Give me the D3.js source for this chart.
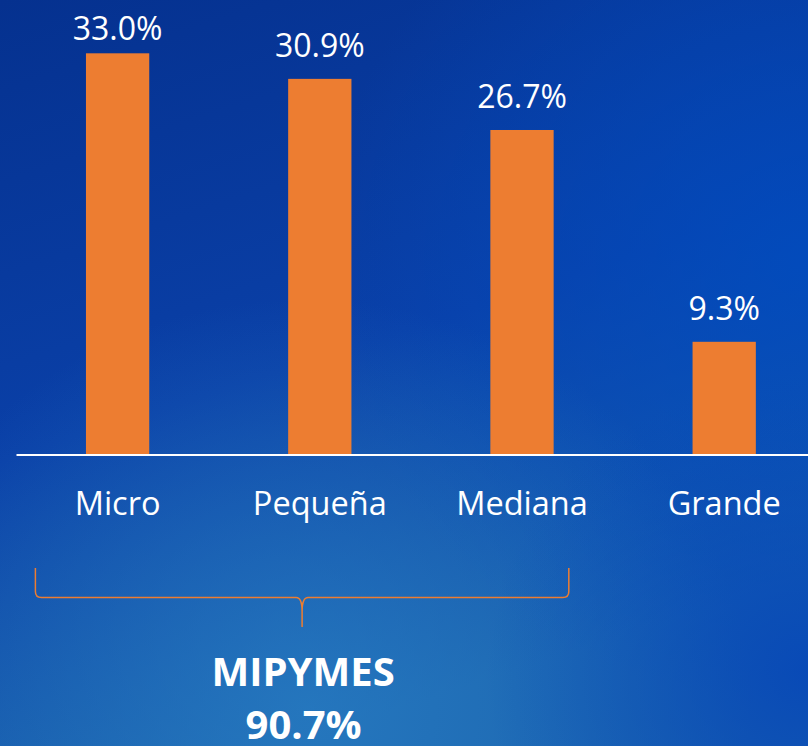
<!DOCTYPE html>
<html>
<head>
<meta charset="utf-8">
<script src="https://cdn.jsdelivr.net/npm/d3@7"></script>
<style>
  html, body { margin: 0; padding: 0; background: #0638a0; }
  svg { display: block; }
</style>
</head>
<body>
<svg id="chart" width="808" height="746"></svg>
<script>
var categories = ["Micro", "Pequeña", "Mediana", "Grande"];
var values = [33.0, 30.9, 26.7, 9.3];
var groupLabel = "MIPYMES";
var groupValue = 90.7;
var groupMembers = ["Micro", "Mediana"];

var svg = d3.select("#chart");
var width = 808, height = 746;
var baseY = 455;

// background
var defs = svg.append("defs");
var lin = defs.append("linearGradient").attr("id", "bg")
    .attr("x1", "0").attr("y1", "0").attr("x2", "0.35").attr("y2", "1");
lin.append("stop").attr("offset", "0").attr("stop-color", "#05318f");
lin.append("stop").attr("offset", "0.55").attr("stop-color", "#0a40a8");
lin.append("stop").attr("offset", "1").attr("stop-color", "#1a62ae");
var glow = defs.append("radialGradient").attr("id", "glow")
    .attr("cx", "0.38").attr("cy", "0.95").attr("r", "0.55");
glow.append("stop").attr("offset", "0").attr("stop-color", "#2a80c4").attr("stop-opacity", 0.7);
glow.append("stop").attr("offset", "1").attr("stop-color", "#2a80c4").attr("stop-opacity", 0);
var right = defs.append("radialGradient").attr("id", "right")
    .attr("cx", "1").attr("cy", "0.35").attr("r", "0.6");
right.append("stop").attr("offset", "0").attr("stop-color", "#004cc0").attr("stop-opacity", 0.8);
right.append("stop").attr("offset", "1").attr("stop-color", "#004cc0").attr("stop-opacity", 0);
var corner = defs.append("radialGradient").attr("id", "corner")
    .attr("cx", "1").attr("cy", "0.9").attr("r", "0.4");
corner.append("stop").attr("offset", "0").attr("stop-color", "#0646b8").attr("stop-opacity", 0.85);
corner.append("stop").attr("offset", "1").attr("stop-color", "#0646b8").attr("stop-opacity", 0);

svg.append("rect").attr("width", width).attr("height", height).attr("fill", "url(#bg)");
svg.append("rect").attr("width", width).attr("height", height).attr("fill", "url(#right)");
svg.append("rect").attr("width", width).attr("height", height).attr("fill", "url(#glow)");
svg.append("rect").attr("width", width).attr("height", height).attr("fill", "url(#corner)");

var x = d3.scaleBand()
    .domain(categories)
    .range([16.5, 825.3])
    .paddingInner(0.687)
    .paddingOuter(0.3435);

var y = d3.scaleLinear()
    .domain([0, 33])
    .range([baseY, 53.3]);

var data = categories.map(function (c, i) { return { cat: c, val: values[i] }; });

svg.selectAll("rect.bar")
    .data(data)
    .enter().append("rect")
    .attr("class", "bar")
    .attr("x", function (d) { return x(d.cat); })
    .attr("y", function (d) { return y(d.val); })
    .attr("width", x.bandwidth())
    .attr("height", function (d) { return baseY - y(d.val); })
    .attr("fill", "#ed7d31");

// baseline
svg.append("line")
    .attr("x1", 16.5).attr("x2", width)
    .attr("y1", baseY).attr("y2", baseY)
    .attr("stroke", "#ffffff").attr("stroke-width", 2);

var font = "'Open Sans', 'Noto Sans', sans-serif";

svg.selectAll("text.val")
    .data(data)
    .enter().append("text")
    .attr("class", "val")
    .attr("x", function (d) { return x(d.cat) + x.bandwidth() / 2; })
    .attr("y", function (d) { return Math.max(y(d.val) - 21.5, 40); })
    .attr("text-anchor", "middle")
    .attr("font-family", font)
    .attr("font-size", 32)
    .attr("fill", "#ffffff")
    .text(function (d) { return d.val.toFixed(1) + "%"; });

svg.selectAll("text.cat")
    .data(data)
    .enter().append("text")
    .attr("class", "cat")
    .attr("x", function (d) { return x(d.cat) + x.bandwidth() / 2; })
    .attr("y", 515)
    .attr("text-anchor", "middle")
    .attr("font-family", font)
    .attr("font-size", 32.5)
    .attr("fill", "#ffffff")
    .text(function (d) { return d.cat; });

// curly bracket under the MIPYMES group
var bx0 = x(groupMembers[0]) - x.step() * 0.25;
var bx1 = x(groupMembers[1]) + x.bandwidth() + x.step() * 0.075;
var bxm = (bx0 + bx1) / 2;
var bTop = 568, bMid = 597.5, bTip = 627, r = 6;
var p = d3.path();
p.moveTo(bx0, bTop);
p.lineTo(bx0, bMid - r);
p.quadraticCurveTo(bx0, bMid, bx0 + r, bMid);
p.lineTo(bxm - r, bMid);
p.quadraticCurveTo(bxm, bMid, bxm, bMid + 14);
p.lineTo(bxm, bTip);
p.moveTo(bxm, bMid + 14);
p.quadraticCurveTo(bxm, bMid, bxm + r, bMid);
p.lineTo(bx1 - r, bMid);
p.quadraticCurveTo(bx1, bMid, bx1, bMid - r);
p.lineTo(bx1, bTop);
svg.append("path")
    .attr("d", p.toString())
    .attr("fill", "none")
    .attr("stroke", "#ed7d31")
    .attr("stroke-width", 1.5);

svg.append("text")
    .attr("x", bxm + 1)
    .attr("y", 686)
    .attr("text-anchor", "middle")
    .attr("font-family", font)
    .attr("font-weight", "bold")
    .attr("font-size", 40)
    .attr("fill", "#ffffff")
    .text(groupLabel);

svg.append("text")
    .attr("x", bxm + 1.5)
    .attr("y", 739)
    .attr("text-anchor", "middle")
    .attr("font-family", font)
    .attr("font-weight", "bold")
    .attr("font-size", 40)
    .attr("fill", "#ffffff")
    .text(groupValue.toFixed(1) + "%");
</script>
</body>
</html>
